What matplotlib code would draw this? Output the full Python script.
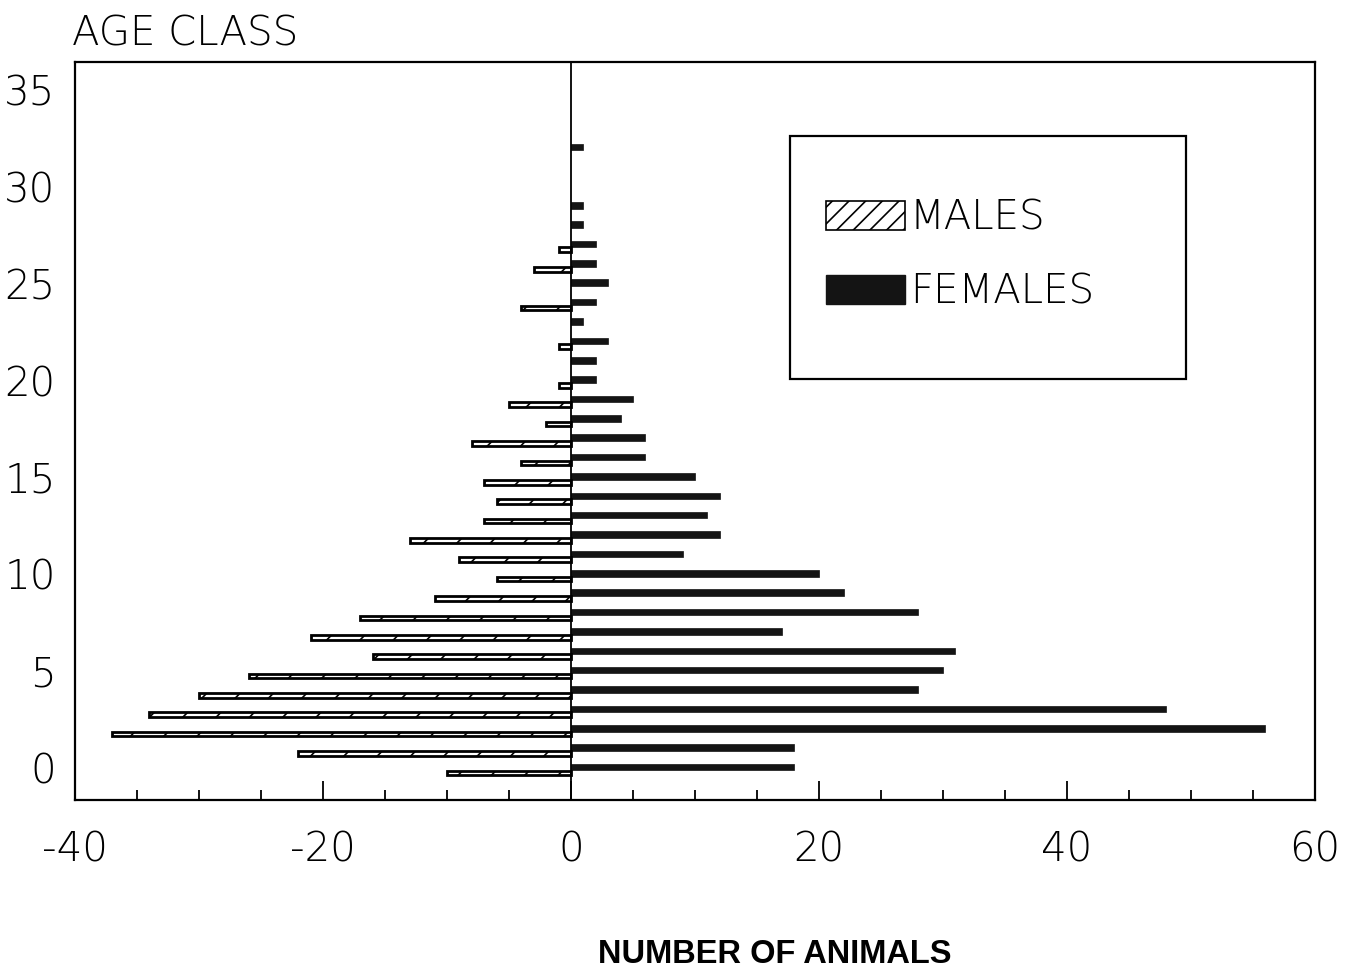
import numpy as np
import matplotlib.pyplot as plt
from matplotlib.patches import Patch, Rectangle
from matplotlib.ticker import MultipleLocator

plt.rcParams['font.family'] = ['DejaVu Sans']
plt.rcParams['axes.unicode_minus'] = False
plt.rcParams['hatch.linewidth'] = 1.2

# age classes 0..32, counts per sex (males drawn to the left)
ages = np.arange(0, 33)
males = [-10, -22, -37, -34, -30, -26, -16, -21, -17, -11,
         -6, -9, -13, -7, -6, -7, -4, -8, -2, -5,
         -1, 0, -1, 0, -4, 0, -3, -1, 0, 0,
         0, 0, 0]
females = [18, 18, 56, 48, 28, 30, 31, 17, 28, 22,
           20, 9, 12, 11, 12, 10, 6, 6, 4, 5,
           2, 2, 3, 1, 2, 3, 2, 2, 1, 1,
           0, 0, 1]
xticks = [-40, -20, 0, 20, 40, 60]
yticks = [0, 5, 10, 15, 20, 25, 30, 35]

fig = plt.figure(figsize=(13.51, 9.72), dpi=100)
ax = fig.add_axes([0.0555, 0.177, 0.9178, 0.7593])

m = np.array(males)
f = np.array(females)
ax.barh(ages[f != 0] + 0.05, f[f != 0], height=0.34, color='#141414',
        edgecolor='#141414', linewidth=0.5, label='FEMALES')
# empty age classes are left out so no outline shows at zero
ax.barh(ages[m != 0] - 0.25, m[m != 0], height=0.24, facecolor='white',
        edgecolor='black', linewidth=2.0, hatch='/', label='MALES')
ax.axvline(0, color='black', lw=1.3)

ax.set_xlim(-40, 60)
ax.set_ylim(-1.65, 36.45)
ax.set_xticks(xticks)
ax.set_yticks(yticks)
ax.xaxis.set_minor_locator(MultipleLocator(5))
ax.tick_params(axis='x', which='major', direction='in', length=14, width=1.3,
               labelsize=29, pad=22, top=False)
ax.tick_params(axis='x', which='minor', direction='in', length=7, width=1.3, top=False)
ax.tick_params(axis='y', which='both', length=0, labelsize=29, pad=14)
for t in ax.get_xticklabels() + ax.get_yticklabels():
    t.set_fontweight('light')
for s in ax.spines.values():
    s.set_linewidth(1.6)

# legend box
ax.add_patch(Rectangle((0.5766, 0.5705), 0.3194, 0.3293, transform=ax.transAxes,
                       facecolor='white', edgecolor='black', lw=1.6, zorder=5))
handles = [Patch(facecolor='white', edgecolor='black', hatch='//', lw=1.2, label='MALES'),
           Patch(facecolor='#141414', edgecolor='#141414', label='FEMALES')]
leg = ax.legend(handles=handles, loc='upper left', bbox_to_anchor=(0.5895, 0.842),
                frameon=False, borderpad=0, fontsize=29, handlelength=1.96,
                handleheight=0.72, handletextpad=0.12, labelspacing=0.87)
leg.set_zorder(6)
for t in leg.get_texts():
    t.set_fontweight('light')

fig.text(72 / 1351, 1 - 45 / 972, 'AGE CLASS', fontsize=29, fontweight='light',
         ha='left', va='baseline')
fig.text(775 / 1351, 1 - 963 / 972, 'NUMBER OF ANIMALS', fontsize=23.5,
         family='Liberation Sans', fontweight='bold', ha='center', va='baseline')

fig.savefig('out.png', dpi=100)
